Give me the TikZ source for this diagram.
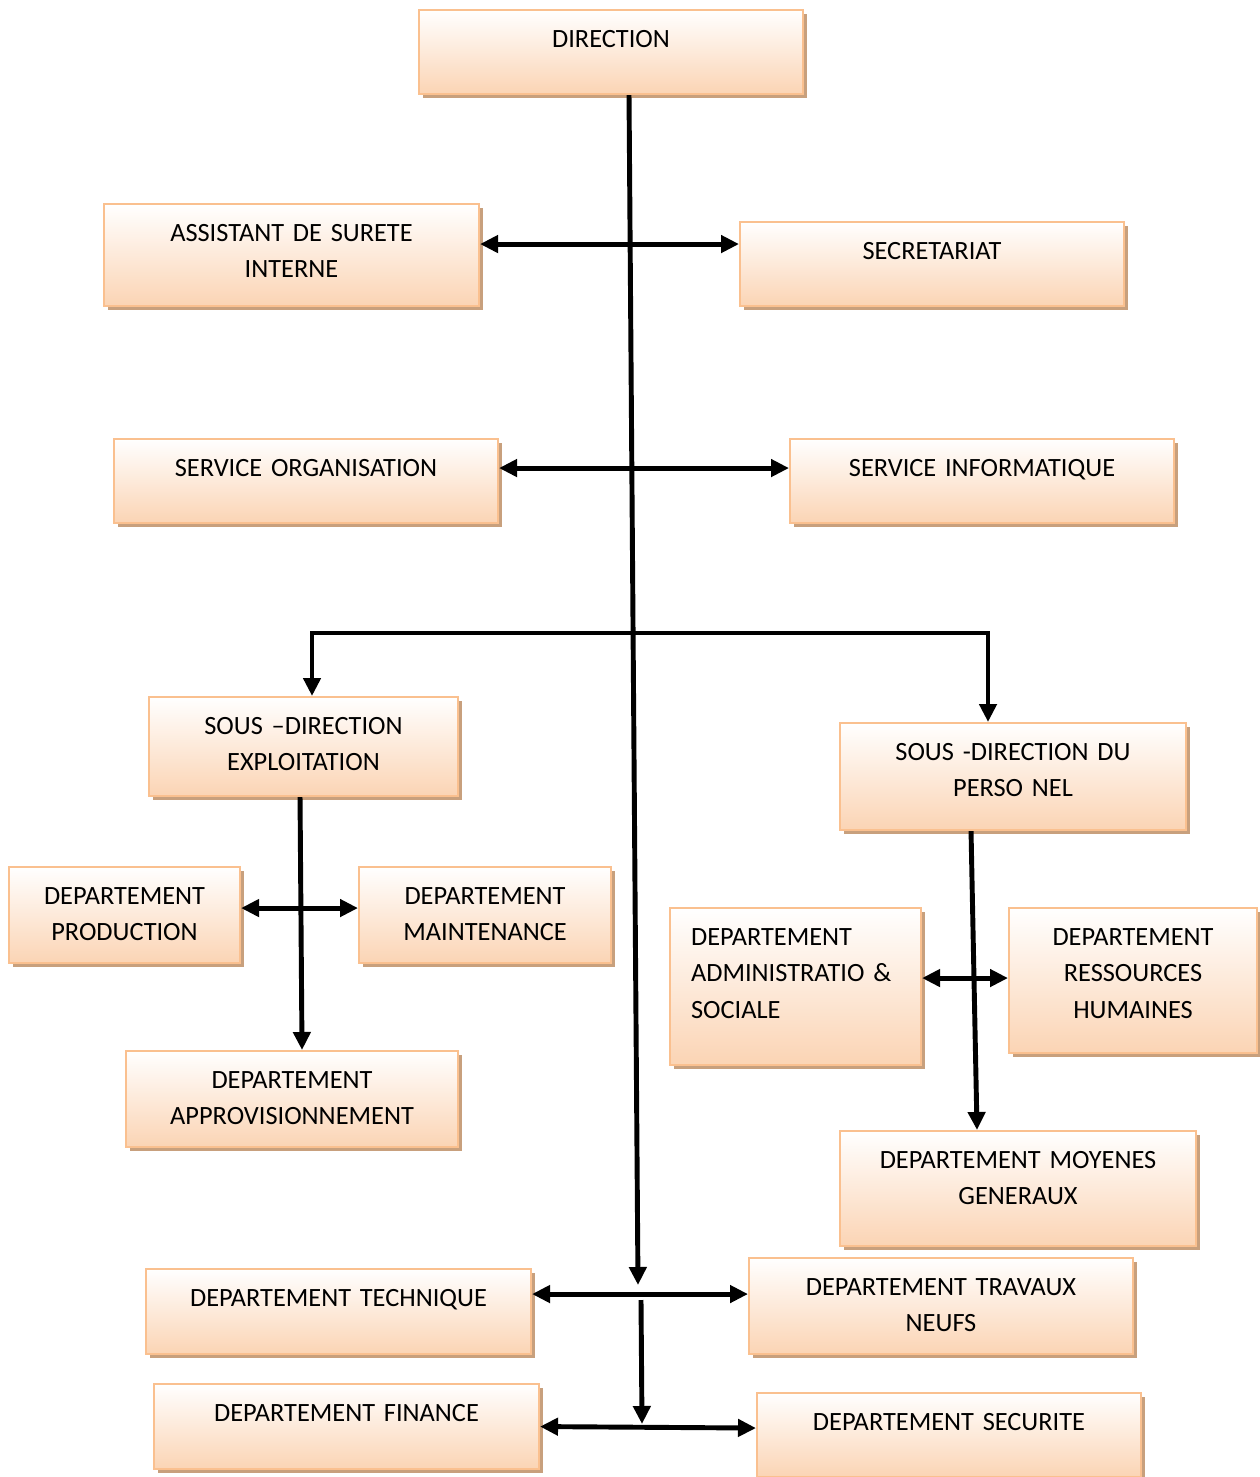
\documentclass[tikz,border=0pt]{standalone}
\usepackage{fontspec}
\setmainfont{Carlito}
\usepackage{tikz}
\usetikzlibrary{calc, arrows.meta, shadows}
\definecolor{myline}{RGB}{250, 192, 143}
\definecolor{myfill}{RGB}{251, 212, 180}
\definecolor{myshadow}{RGB}{200, 160, 125}
\tikzset{>={Triangle[length=0.36cm, width=0.34cm]}}
\tikzset{mybox/.style = {anchor = north west, inner sep = 0, inner xsep = 0.1cm,
    text height = 0.74cm, align = center, draw = myline, line width = 1.2pt,
    top color = white, bottom color = myfill,
    drop shadow = {shadow xshift = 0.08cm, shadow yshift = -0.08cm, fill = myshadow, opacity = 1},
    font = \fontsize{15}{21}\selectfont},
  link/.style = {line width = 2.8pt}}
\begin{document}
\begin{tikzpicture}[x = 0.02cm, y = -0.02cm]
\useasboundingbox (0,0) rectangle (1259,1477);
\node[mybox, text width = 7.48cm, text depth = 0.94cm] (dir) at (418,9) {DIRECTION};
\node[mybox, text width = 7.30cm, text depth = 1.30cm] (asst) at (103,203) {ASSISTANT DE SURETE\\ INTERNE};
\node[mybox, text width = 7.48cm, text depth = 0.94cm] (secr) at (739,221) {SECRETARIAT};
\node[mybox, text width = 7.48cm, text depth = 0.94cm] (sorg) at (113,438) {SERVICE ORGANISATION};
\node[mybox, text width = 7.48cm, text depth = 0.94cm] (sinfo) at (789,438) {SERVICE INFORMATIQUE};
\node[mybox, text width = 5.98cm, text depth = 1.24cm] (sdexp) at (148,696) {SOUS –DIRECTION\\ EXPLOITATION};
\node[mybox, text width = 6.72cm, text depth = 1.40cm] (sdper) at (839,722) {SOUS -DIRECTION DU\\ PERSO NEL};
\node[mybox, text width = 4.42cm, text depth = 1.18cm] (prod) at (8,866) {DEPARTEMENT\\ PRODUCTION};
\node[mybox, text width = 4.84cm, text depth = 1.18cm] (maint) at (358,866) {DEPARTEMENT\\ MAINTENANCE};
\node[mybox, align = left, inner xsep = 0.42cm, text width = 4.18cm, text depth = 2.40cm] (adm) at (669,907) {DEPARTEMENT\\ ADMINISTRATIO \&\\ SOCIALE};
\node[mybox, text width = 4.76cm, text depth = 2.16cm] (rh) at (1008,907) {DEPARTEMENT\\ RESSOURCES\\ HUMAINES};
\node[mybox, text width = 6.44cm, text depth = 1.18cm] (appro) at (125,1050) {DEPARTEMENT\\ APPROVISIONNEMENT};
\node[mybox, text width = 6.92cm, text depth = 1.56cm] (moy) at (839,1130) {DEPARTEMENT MOYENES\\ GENERAUX};
\node[mybox, text width = 7.50cm, text depth = 0.96cm] (tech) at (145,1268) {DEPARTEMENT TECHNIQUE};
\node[mybox, text width = 7.48cm, text depth = 1.18cm] (trav) at (748,1257) {DEPARTEMENT TRAVAUX\\ NEUFS};
\node[mybox, text width = 7.50cm, text depth = 0.96cm] (fin) at (153,1383) {DEPARTEMENT FINANCE};
\node[mybox, text width = 7.48cm, text depth = 0.94cm] (secu) at (756,1392) {DEPARTEMENT SECURITE};
\coordinate (trunkend) at (638,1285);
\coordinate (bar) at (631,633);
\coordinate (fork) at (641,1300);
\coordinate (forkend) at (642,1424);
\draw[link, ->] ([xshift = 0.36cm]dir.south) -- (trunkend);
\draw[link, <->] ([yshift = 0.22cm]asst.east) -- ([yshift = 0.22cm]asst.east -| secr.west);
\draw[link, <->] ([yshift = 0.26cm]sorg.east) -- ([yshift = 0.26cm]sorg.east -| sinfo.west);
\draw[link, <->] ([xshift = 0.17cm]sdexp.north) |- (bar) -| ([xshift = -0.5cm]sdper.north);
\draw[link, ->] ([xshift = -0.07cm]sdexp.south) -- ([xshift = 0.2cm]appro.north);
\draw[link, <->] ([yshift = 0.14cm]prod.east) -- ([yshift = 0.14cm]prod.east -| maint.west);
\draw[link, ->] ([xshift = -0.84cm]sdper.south) -- ([xshift = -0.82cm]moy.north);
\draw[link, <->] ([yshift = 0.17cm]adm.east) -- ([yshift = 0.17cm]adm.east -| rh.west);
\draw[link, <->] ([yshift = 0.35cm]tech.east) -- ([yshift = 0.35cm]tech.east -| trav.west);
\draw[link, ->] (fork) -- (forkend);
\draw[link, <->] (fin.east) -- ([yshift = 0.14cm]secu.west);
\end{tikzpicture}
\end{document}
